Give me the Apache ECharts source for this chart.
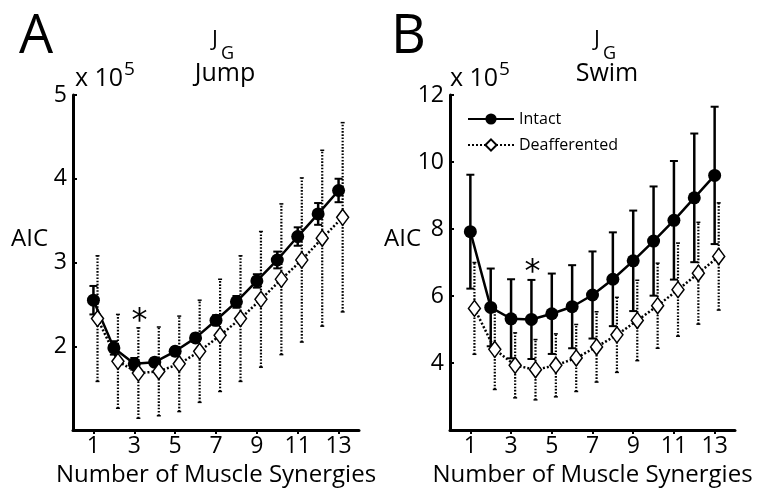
<!DOCTYPE html>
<html>
<head>
<meta charset="UTF-8">
<title>AIC</title>
<script src="https://cdn.jsdelivr.net/npm/echarts@6.0.0/dist/echarts.min.js"></script>
<style>
    html, body { margin: 0; padding: 0; background: #fff; }
    #main { width: 774px; height: 498px; }
</style>
</head>
<body>
<div id="main"></div>
<script>
// number of synergies (x) and the odd ticks that are labelled
var synergyCounts = [1, 2, 3, 4, 5, 6, 7, 8, 9, 10, 11, 12, 13];
var xTicks = [1, 3, 5, 7, 9, 11, 13];
// deafferented points are drawn a little to the right of the intact ones
var deaffShift = 0.2;

// panel A, jump (x 10^5)
var jumpIntact = [2.55, 1.98, 1.79, 1.81, 1.94, 2.10, 2.31, 2.53, 2.78, 3.03, 3.31, 3.58, 3.86];
var jumpIntactErr = [0.17, 0.08, 0.07, 0.05, 0.05, 0.05, 0.06, 0.07, 0.08, 0.10, 0.11, 0.13, 0.14];
var jumpDeaff = [2.33, 1.82, 1.68, 1.70, 1.79, 1.94, 2.13, 2.33, 2.56, 2.80, 3.03, 3.29, 3.54];
var jumpDeaffErr = [0.75, 0.56, 0.54, 0.53, 0.57, 0.61, 0.67, 0.75, 0.81, 0.90, 0.98, 1.05, 1.13];
var jumpStar = [3.25, 2.40];

// panel B, swim (x 10^5)
var swimIntact = [7.92, 5.66, 5.32, 5.30, 5.47, 5.68, 6.03, 6.50, 7.05, 7.64, 8.26, 8.93, 9.60];
var swimIntactErr = [1.70, 1.16, 1.18, 1.18, 1.20, 1.24, 1.30, 1.40, 1.50, 1.63, 1.77, 1.92, 2.05];
var swimDeaff = [5.63, 4.41, 3.93, 3.80, 3.93, 4.15, 4.48, 4.84, 5.27, 5.71, 6.19, 6.68, 7.18];
var swimDeaffErr = [1.37, 1.20, 0.97, 0.90, 0.94, 1.00, 1.05, 1.12, 1.20, 1.27, 1.39, 1.52, 1.60];
var swimStar = [4.05, 6.95];

var FONT = '"Open Sans", sans-serif';

function points(vals, shift) {
    return vals.map(function (v, i) { return [synergyCounts[i] + shift, v]; });
}
function bars(vals, errs, shift) {
    return vals.map(function (v, i) { return [synergyCounts[i] + shift, v - errs[i], v + errs[i]]; });
}

// error bar drawing, dotted or solid
function makeErrRender(dotted) {
    return function (params, api) {
        var lo = api.coord([api.value(0), api.value(1)]);
        var hi = api.coord([api.value(0), api.value(2)]);
        var cap = dotted ? 2 : 4;
        var style = {
            stroke: '#000',
            lineWidth: dotted ? 2.2 : 2.5,
            lineDash: dotted ? [1.6, 1.6] : null
        };
        var capStyle = { stroke: '#000', lineWidth: dotted ? 1.5 : 2 };
        return {
            type: 'group',
            children: [
                { type: 'line', shape: { x1: lo[0], y1: lo[1], x2: hi[0], y2: hi[1] }, style: style },
                { type: 'line', shape: { x1: hi[0] - cap, y1: hi[1], x2: hi[0] + cap, y2: hi[1] }, style: capStyle },
                { type: 'line', shape: { x1: lo[0] - cap, y1: lo[1], x2: lo[0] + cap, y2: lo[1] }, style: capStyle }
            ]
        };
    };
}

function xAxisFor(idx) {
    return {
        type: 'value', gridIndex: idx, min: 0, max: 14,
        name: 'Number of Muscle Synergies', nameLocation: 'middle', nameGap: 31,
        nameTextStyle: { fontFamily: FONT, fontSize: 24, color: '#000' },
        axisLine: { lineStyle: { color: '#000', width: 3 } },
        axisTick: { customValues: xTicks, length: 4, lineStyle: { color: '#000', width: 2 } },
        axisLabel: { customValues: xTicks, fontFamily: FONT, fontSize: 23, color: '#000', margin: 5 },
        splitLine: { show: false }
    };
}
function yAxisFor(idx, min, max, step) {
    return {
        type: 'value', gridIndex: idx, min: min, max: max, interval: step,
        axisLine: { show: true, lineStyle: { color: '#000', width: 3 } },
        axisTick: { show: true, inside: true, length: 4, lineStyle: { color: '#000', width: 2 } },
        axisLabel: { showMinLabel: false, fontFamily: FONT, fontSize: 23, color: '#000', margin: 6 },
        splitLine: { show: false }
    };
}

function panelSeries(idx, intact, intactErr, deaff, deaffErr, star) {
    return [
        { type: 'custom', name: 'deaffErr', xAxisIndex: idx, yAxisIndex: idx, z: 1,
          renderItem: makeErrRender(true), encode: { x: 0, y: [1, 2] },
          data: bars(deaff, deaffErr, deaffShift), silent: true },
        { type: 'custom', name: 'intactErr', xAxisIndex: idx, yAxisIndex: idx, z: 2,
          renderItem: makeErrRender(false), encode: { x: 0, y: [1, 2] },
          data: bars(intact, intactErr, 0), silent: true },
        { type: 'line', name: 'Intact', xAxisIndex: idx, yAxisIndex: idx, z: 3,
          data: points(intact, 0), symbol: 'circle', symbolSize: 13, showAllSymbol: true,
          lineStyle: { color: '#000', width: 2.5 },
          itemStyle: { color: '#000', borderColor: '#000', borderWidth: 0 } },
        { type: 'line', name: 'Deafferented', xAxisIndex: idx, yAxisIndex: idx, z: 4,
          data: points(deaff, deaffShift), symbol: 'diamond', symbolSize: [12, 16], showAllSymbol: true,
          lineStyle: { color: '#000', width: 2.5, type: [2, 2] },
          itemStyle: { color: '#fff', borderColor: '#000', borderWidth: 1.5 } },
        { type: 'scatter', name: 'star', xAxisIndex: idx, yAxisIndex: idx, z: 5,
          data: [star], symbolSize: 1, silent: true,
          itemStyle: { color: 'rgba(0,0,0,0)', opacity: 1 },
          label: { show: true, position: 'inside', formatter: '*', offset: [0, 9],
                   fontFamily: '"DejaVu Sans", sans-serif', fontSize: 32, color: '#000',
                   textBorderWidth: 0, opacity: 1 } }
    ];
}

function txt(x, y, s, size, align) {
    return { type: 'text', x: x, y: y,
             style: { text: s, fontFamily: FONT, fontSize: size, fill: '#000',
                      textAlign: align || 'left', textVerticalAlign: 'middle' } };
}

var chart = echarts.init(document.getElementById('main'));
chart.setOption({
    animation: false,
    backgroundColor: '#fff',
    grid: [
        { left: 73, top: 95, width: 286, height: 335 },
        { left: 450, top: 95, width: 285, height: 335 }
    ],
    xAxis: [xAxisFor(0), xAxisFor(1)],
    yAxis: [yAxisFor(0, 1, 5, 1), yAxisFor(1, 2, 12, 2)],
    legend: {
        data: ['Intact', 'Deafferented'], orient: 'vertical', left: 467, top: 111,
        padding: 0, itemWidth: 46, itemHeight: 14, itemGap: 10, selectedMode: false,
        textStyle: { fontFamily: FONT, fontSize: 16, color: '#000' }
    },
    graphic: [
        txt(19, 38, 'A', 54),
        txt(391, 38, 'B', 54),
        txt(212, 40, 'J', 22), txt(221, 54, 'G', 18), txt(225, 74, 'Jump', 25, 'center'),
        txt(594, 40, 'J', 22), txt(603, 54, 'G', 18), txt(607, 74, 'Swim', 25, 'center'),
        txt(75, 79, 'x 10', 25), txt(124, 70, '5', 19),
        txt(450, 79, 'x 10', 25), txt(499, 70, '5', 19),
        txt(11, 239, 'AIC', 24), txt(384, 239, 'AIC', 24)
    ],
    series: panelSeries(0, jumpIntact, jumpIntactErr, jumpDeaff, jumpDeaffErr, jumpStar)
        .concat(panelSeries(1, swimIntact, swimIntactErr, swimDeaff, swimDeaffErr, swimStar))
});
</script>
</body>
</html>
